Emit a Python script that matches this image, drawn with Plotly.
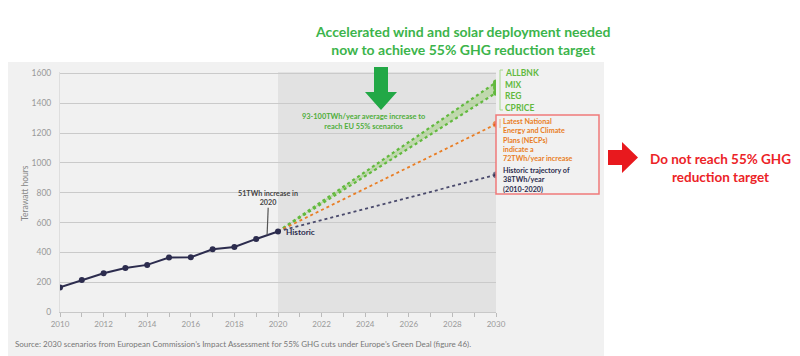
import plotly.graph_objects as go

# ---------------- data ----------------
years = [2010, 2011, 2012, 2013, 2014, 2015, 2016, 2017, 2018, 2019, 2020]
historic_twh = [165, 215, 260, 295, 316, 365, 367, 421, 436, 490, 540]

proj_years = [2020, 2030]
scenario_names = ["ALLBNK", "MIX", "REG", "CPRICE"]
scenario_2030 = [1540, 1525, 1505, 1470]
necp_2030 = 1260
trend_2030 = 920

x_tick_vals = list(range(2010, 2031))
x_tick_text = [str(y) if y % 2 == 0 else "" for y in x_tick_vals]
y_tick_vals = [0, 200, 400, 600, 800, 1000, 1200, 1400, 1600]

# ---------------- geometry (page has an 8px body margin) ----------------
OFF = 8
W, H = 800 - OFF, 356 - OFF
L, R, T, B = 60 - OFF, W - (496 - OFF), 72 - OFF, 44
PW, PH = W - L - R, H - T - B


def px(x):
    return (x - OFF - L) / PW


def py(y):
    return (H - B - (y - OFF)) / PH


FONT = "Lato"
GREEN_T = "#3cb44b"
GREEN_L = "#62b93e"
ORANGE = "#e97e25"
NAVY = "#2c2c4e"
RED = "#ec2327"

fig = go.Figure()

start = historic_twh[-1]

# green band
fig.add_trace(go.Scatter(x=proj_years, y=[start, min(scenario_2030)], mode="lines",
                         line=dict(color=GREEN_L, width=2.2, dash="dot"),
                         hoverinfo="skip", showlegend=False))
fig.add_trace(go.Scatter(x=proj_years, y=[start, max(scenario_2030)], mode="lines",
                         line=dict(color=GREEN_L, width=2.2, dash="dot"),
                         fill="tonexty", fillcolor="rgba(150,205,110,0.45)",
                         hoverinfo="skip", showlegend=False))
fig.add_trace(go.Scatter(x=[2030] * len(scenario_2030), y=scenario_2030, mode="markers",
                         marker=dict(color=GREEN_L, size=6), showlegend=False))

# NECP
fig.add_trace(go.Scatter(x=proj_years, y=[start, necp_2030], mode="lines+markers",
                         line=dict(color=ORANGE, width=1.8, dash="dot"),
                         marker=dict(color=[ORANGE, "#e8501e"], size=[0, 6]),
                         showlegend=False))
# historic trend
fig.add_trace(go.Scatter(x=proj_years, y=[start, trend_2030], mode="lines+markers",
                         line=dict(color="#4a4a6c", width=1.8, dash="dot"),
                         marker=dict(color=NAVY, size=[0, 6]),
                         showlegend=False))
# historic
fig.add_trace(go.Scatter(x=years, y=historic_twh, mode="lines+markers",
                         line=dict(color=NAVY, width=2),
                         marker=dict(color=NAVY, size=6), showlegend=False))

shapes = []
# outer gray panel
shapes.append(dict(type="rect", xref="paper", yref="paper",
                   x0=px(0), x1=px(604), y0=py(360), y1=py(62),
                   fillcolor="#f1f1f1", line=dict(width=0), layer="below"))
# projection shade
shapes.append(dict(type="rect", xref="x", yref="y", x0=2020, x1=2030, y0=0, y1=1610,
                   fillcolor="#e2e2e2", line=dict(width=0), layer="below"))
# callout line for 51TWh
shapes.append(dict(type="line", xref="x", yref="y", x0=2019.55, x1=2019.5,
                   y0=700, y1=518, line=dict(color="#555", width=1.2)))
# green bracket
shapes.append(dict(type="path", xref="paper", yref="paper",
                   path=f"M{px(503)},{py(70)} L{px(500)},{py(70)} L{px(500)},{py(110)} L{px(503)},{py(110)}",
                   line=dict(color="#a8d890", width=1)))
# orange small bracket
shapes.append(dict(type="line", xref="paper", yref="paper",
                   x0=px(500), x1=px(500), y0=py(119), y1=py(128),
                   line=dict(color="#f0b080", width=1)))
# red box
shapes.append(dict(type="rect", xref="paper", yref="paper",
                   x0=px(496), x1=px(599), y0=py(194), y1=py(115),
                   line=dict(color="#ef7a7a", width=1.5), fillcolor="rgba(0,0,0,0)"))
# green down arrow
ga = [(374, 67), (388, 67), (388, 92), (397, 92), (381, 110), (365, 92), (374, 92)]
shapes.append(dict(type="path", xref="paper", yref="paper",
                   path="M" + " L".join(f"{px(a)},{py(b)}" for a, b in ga) + " Z",
                   fillcolor="#22a846", line=dict(width=0)))
# red right arrow
ra = [(608, 150), (622, 150), (622, 142), (638, 157.5), (622, 173), (622, 165), (608, 165)]
shapes.append(dict(type="path", xref="paper", yref="paper",
                   path="M" + " L".join(f"{px(a)},{py(b)}" for a, b in ra) + " Z",
                   fillcolor="#e8191e", line=dict(width=0)))

ann = []


def text(s, x, y, size, color, xanchor="left", bold=True, align=None):
    ann.append(dict(text=f"<b>{s}</b>" if bold else s, x=px(x), y=py(y), xref="paper", yref="paper",
                    xanchor=xanchor, yanchor="middle", showarrow=False, borderpad=0,
                    align=align or xanchor,
                    font=dict(family=FONT, size=size, color=color)))


# title
text("Accelerated wind and solar deployment needed<br>now to achieve 55% GHG reduction target",
     462, 40.5, 14, GREEN_T, "center")
# red side text
text("Do not reach 55% GHG<br>reduction target", 720, 167.5, 13.5, RED, "center")
# scenario labels
for name, yy in zip(scenario_names, [73, 84.5, 96, 108]):
    text(name, 504, yy, 8.5, GREEN_L)
# NECP text
text("Latest National<br>Energy and Climate<br>Plans (NECPs)<br>indicate a<br>72TWh/year increase",
     502, 140, 7.2, ORANGE)
text("Historic trajectory of<br>38TWh/year<br>(2010-2020)", 502, 179.5, 7.2, NAVY)
# green note
text("93-100TWh/year average increase to<br>reach EU 55% scenarios", 363, 121, 7.4, "#4fae3a", "center")
# 51TWh note
text("51TWh increase in<br>2020", 268, 198, 7.2, "#444", "center")
# Historic label
text("Historic", 285, 232, 8.2, NAVY)
# axis title
ann.append(dict(text="Terawatt hours", x=px(25), y=py(193), xref="paper", yref="paper",
                textangle=-90, showarrow=False, xanchor="center", yanchor="middle",
                font=dict(family=FONT, size=8.5, color="#888")))
# source
text("Source: 2030 scenarios from European Commission\u2019s Impact Assessment for 55% GHG cuts under Europe\u2019s Green Deal (figure 46).",
     14, 344, 8, "#777", "left", bold=False)

fig.update_layout(
    width=W, height=H,
    margin=dict(l=L, r=R, t=T, b=B, pad=0),
    paper_bgcolor="white", plot_bgcolor="rgba(0,0,0,0)",
    shapes=shapes, annotations=ann,
    xaxis=dict(range=[2010, 2030], tickvals=x_tick_vals, ticktext=x_tick_text,
               ticks="outside", ticklen=4, tickcolor="#bbb", showgrid=False,
               showline=True, linecolor="#c8c8c8", linewidth=1, zeroline=False,
               tickfont=dict(family=FONT, size=8, color="#999")),
    yaxis=dict(range=[0, 1610], tickvals=y_tick_vals, showgrid=True,
               gridcolor="#cacaca", gridwidth=1.3, zeroline=False,
               showline=True, linecolor="#dedede",
               tickfont=dict(family=FONT, size=8.5, color="#999"), ticklabelstandoff=6),
)

fig.write_html("out.html")
